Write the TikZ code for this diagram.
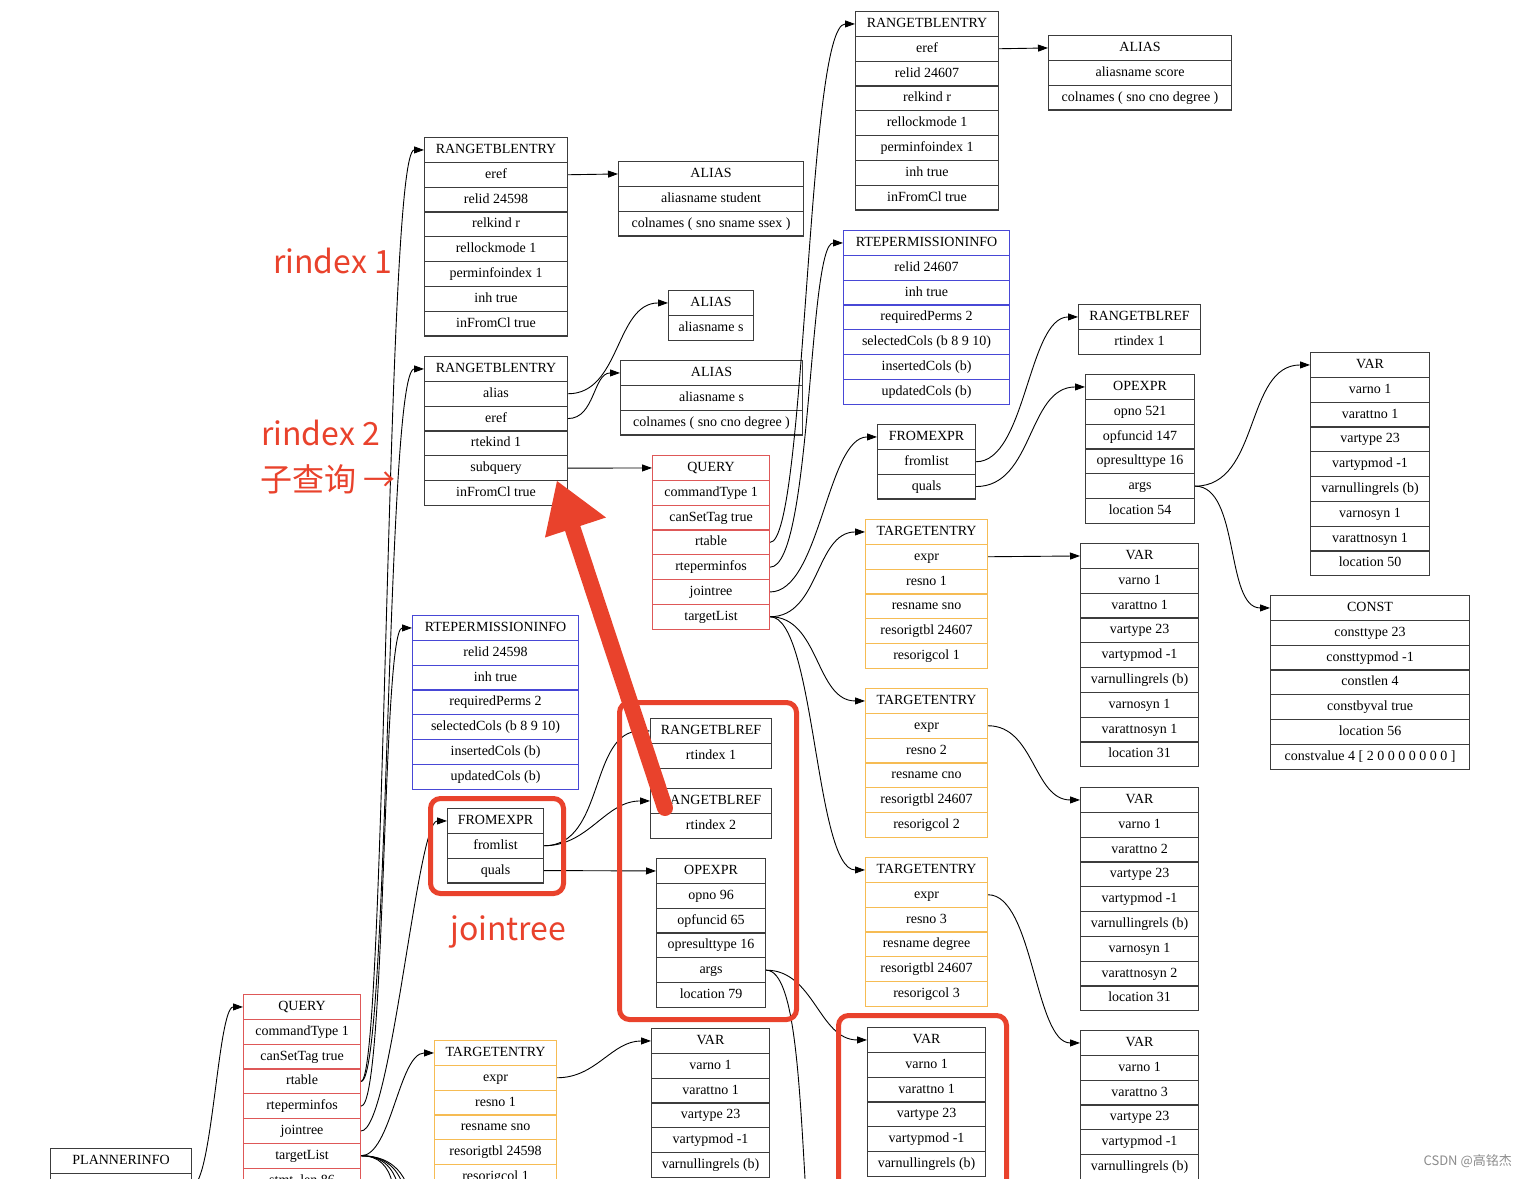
\documentclass[tikz,border=0pt]{standalone}
\usepackage{fontspec}
\setmainfont{Liberation Serif}
\newfontfamily\cjk{Noto Sans CJK SC}
\usetikzlibrary{arrows.meta,calc}

\definecolor{recred}{RGB}{222,88,88}
\definecolor{recblue}{RGB}{72,72,214}
\definecolor{recorange}{RGB}{246,188,84}
\definecolor{recgray}{RGB}{60,60,60}
\definecolor{markred}{RGB}{233,66,44}

% one record: name, left x, top y, width, border style, rows
\newcommand{\pgrec}[6]{%
  \foreach \rowtxt [count=\ri] in {#6}
    \node[rowbox, #5, minimum width=#4pt] (#1-\ri) at (#2,{#3+(\ri-1)*24.8}) {\rowtxt};
}

\begin{document}
\begin{tikzpicture}[x=1pt, y=-1pt,
  font=\fontsize{14}{16}\selectfont,
  rowbox/.style={draw=recgray, line width=1.1pt, anchor=north west, inner sep=0pt,
    minimum height=24.8pt, text height=10pt, text depth=3pt},
  ptr/.style={line width=0.9pt, -{Triangle[length=10pt,width=7pt]}},
  markbox/.style={draw=markred, line width=5pt, rounded corners=10pt},
  marktext/.style={text=markred, font=\cjk\fontsize{32}{36}\selectfont, anchor=base west, inner sep=0pt}]
  \useasboundingbox (0,0) rectangle (1526,1178);
  \fill[white] (0,0) rectangle (1526,1178);
  \clip (0,0) rectangle (1526,1178);

  % outer query
  \pgrec{pi}{50}{1148}{141}{}{PLANNERINFO,{}}
  \pgrec{qo}{243}{994}{117}{draw=recred}{QUERY,commandType 1,canSetTag true,rtable,rteperminfos,jointree,targetList,stmt\_len 86}
  \pgrec{rtes}{424}{137}{143}{}{RANGETBLENTRY,eref,relid 24598,relkind r,rellockmode 1,perminfoindex 1,inh true,inFromCl true}
  \pgrec{als}{618}{161}{185}{}{ALIAS,aliasname student,colnames ( sno sname ssex )}
  \pgrec{alsub}{668}{290}{85}{}{ALIAS,aliasname s}
  \pgrec{rtesub}{424}{356}{143}{}{RANGETBLENTRY,alias,eref,rtekind 1,subquery,inFromCl true}
  \pgrec{alsubc}{620}{360}{182}{}{ALIAS,aliasname s,colnames ( sno cno degree )}
  \pgrec{perms}{412}{615}{166}{draw=recblue}{RTEPERMISSIONINFO,relid 24598,inh true,requiredPerms 2,selectedCols (b 8 9 10),insertedCols (b),updatedCols (b)}
  \pgrec{fromo}{447}{808}{96}{}{FROMEXPR,fromlist,quals}
  \pgrec{rtr1}{650}{718}{121}{}{RANGETBLREF,rtindex 1}
  \pgrec{rtr2}{650}{788}{121}{}{RANGETBLREF,rtindex 2}
  \pgrec{opo}{656}{858}{109}{}{OPEXPR,opno 96,opfuncid 65,opresulttype 16,args,location 79}
  \pgrec{teo}{434}{1040}{122}{draw=recorange}{TARGETENTRY,expr,resno 1,resname sno,resorigtbl 24598,resorigcol 1}
  \pgrec{varte}{651}{1028}{118}{}{VAR,varno 1,varattno 1,vartype 23,vartypmod -1,varnullingrels (b)}
  \pgrec{varo}{867}{1027}{118}{}{VAR,varno 1,varattno 1,vartype 23,vartypmod -1,varnullingrels (b)}

  % subquery
  \pgrec{qi}{652}{455}{117}{draw=recred}{QUERY,commandType 1,canSetTag true,rtable,rteperminfos,jointree,targetList}
  \pgrec{rtesc}{855}{11}{143}{}{RANGETBLENTRY,eref,relid 24607,relkind r,rellockmode 1,perminfoindex 1,inh true,inFromCl true}
  \pgrec{alsc}{1048}{35}{183}{}{ALIAS,aliasname score,colnames ( sno cno degree )}
  \pgrec{permsc}{843}{230}{166}{draw=recblue}{RTEPERMISSIONINFO,relid 24607,inh true,requiredPerms 2,selectedCols (b 8 9 10),insertedCols (b),updatedCols (b)}
  \pgrec{fromi}{877}{424}{98}{}{FROMEXPR,fromlist,quals}
  \pgrec{rtri}{1078}{304}{122}{}{RANGETBLREF,rtindex 1}
  \pgrec{opi}{1085}{374}{109}{}{OPEXPR,opno 521,opfuncid 147,opresulttype 16,args,location 54}
  \pgrec{varop}{1310}{352}{119}{}{VAR,varno 1,varattno 1,vartype 23,vartypmod -1,varnullingrels (b),varnosyn 1,varattnosyn 1,location 50}
  \pgrec{constop}{1270}{595}{199}{}{CONST,consttype 23,consttypmod -1,constlen 4,constbyval true,location 56,{constvalue 4 [ 2 0 0 0 0 0 0 0 ]}}
  \pgrec{tei1}{865}{519}{122}{draw=recorange}{TARGETENTRY,expr,resno 1,resname sno,resorigtbl 24607,resorigcol 1}
  \pgrec{tei2}{865}{688}{122}{draw=recorange}{TARGETENTRY,expr,resno 2,resname cno,resorigtbl 24607,resorigcol 2}
  \pgrec{tei3}{865}{857}{122}{draw=recorange}{TARGETENTRY,expr,resno 3,resname degree,resorigtbl 24607,resorigcol 3}
  \pgrec{vari1}{1080}{543}{118}{}{VAR,varno 1,varattno 1,vartype 23,vartypmod -1,varnullingrels (b),varnosyn 1,varattnosyn 1,location 31}
  \pgrec{vari2}{1080}{787}{118}{}{VAR,varno 1,varattno 2,vartype 23,vartypmod -1,varnullingrels (b),varnosyn 1,varattnosyn 2,location 31}
  \pgrec{vari3}{1080}{1030}{118}{}{VAR,varno 1,varattno 3,vartype 23,vartypmod -1,varnullingrels (b)}

  % ends below the cut
  \coordinate (tl1) at (430,1330);
  \coordinate (tl2) at (440,1380);
  \coordinate (tl3) at (450,1430);
  \coordinate (tl4) at (455,1480);
  \coordinate (argdown) at (880,1450);

  % pointers of the outer query
  \draw[ptr] (pi-2.east) to[out=0,in=180,out distance=20pt,in distance=25pt] (qo-1.west);
  \draw[ptr] (qo-4.east) to[out=0,in=180,out distance=25pt,in distance=38pt] (rtes-1.west);
  \draw[ptr] (qo-4.east) to[out=0,in=180,out distance=28pt,in distance=38pt] (rtesub-1.west);
  \draw[ptr] (qo-5.east) to[out=0,in=180,out distance=25pt,in distance=30pt] (perms-1.west);
  \draw[ptr] (qo-6.east) to[out=0,in=180,out distance=30pt,in distance=30pt] (fromo-1.west);
  \draw[ptr] (qo-7.east) to[out=0,in=180,out distance=30pt,in distance=35pt] (teo-1.west);
  \foreach \t in {tl1,tl2,tl3,tl4}
    \draw[ptr] (qo-7.east) to[out=0,in=180] (\t);
  \draw[ptr] (rtes-2.east) -- (als-1.west);
  \draw[ptr] (rtesub-2.east) to[out=0,in=180] (alsub-1.west);
  \draw[ptr] (rtesub-3.east) to[out=0,in=180] (alsubc-1.west);
  \draw[ptr] (rtesub-5.east) -- (qi-1.west);
  \draw[ptr] (fromo-2.east) to[out=0,in=180] (rtr1-1.west);
  \draw[ptr] (fromo-2.east) to[out=0,in=180] (rtr2-1.west);
  \draw[ptr] (fromo-3.east) -- (opo-1.west);
  \draw[ptr] (opo-5.east) to[out=0,in=180] (varo-1.west);
  \draw[ptr] (opo-5.east) to[out=0,in=180,out distance=60pt,in distance=100pt] (argdown);
  \draw[ptr] (teo-2.east) to[out=0,in=180] (varte-1.west);

  % pointers of the subquery
  \draw[ptr] (qi-4.east) to[out=0,in=180,out distance=36pt,in distance=48pt] (rtesc-1.west);
  \draw[ptr] (qi-5.east) to[out=0,in=180,out distance=42pt,in distance=35pt] (permsc-1.west);
  \draw[ptr] (qi-6.east) to[out=0,in=180,out distance=50pt,in distance=50pt] (fromi-1.west);
  \draw[ptr] (qi-7.east) to[out=0,in=180] (tei1-1.west);
  \draw[ptr] (qi-7.east) to[out=0,in=180] (tei2-1.west);
  \draw[ptr] (qi-7.east) to[out=0,in=180,out distance=45pt,in distance=50pt] (tei3-1.west);
  \draw[ptr] (rtesc-2.east) -- (alsc-1.west);
  \draw[ptr] (fromi-2.east) to[out=0,in=180,out distance=50pt,in distance=50pt] (rtri-1.west);
  \draw[ptr] (fromi-3.east) to[out=0,in=180] (opi-1.west);
  \draw[ptr] (opi-5.east) to[out=0,in=180] (varop-1.west);
  \draw[ptr] (opi-5.east) to[out=0,in=180,out distance=45pt,in distance=45pt] (constop-1.west);
  \draw[ptr] (tei1-2.east) -- (vari1-1.west);
  \draw[ptr] (tei2-2.east) to[out=0,in=180] (vari2-1.west);
  \draw[ptr] (tei3-2.east) to[out=0,in=180,out distance=45pt,in distance=45pt] (vari3-1.west);

  % red marks
  \draw[markbox] (430.5,798.5) rectangle (563.5,893.5);
  \draw[markbox] (619.5,702.5) rectangle (796.5,1019.5);
  \draw[markbox] (838.5,1015.5) rectangle (1006.5,1220);
  \node[marktext] (lblone) at (273,273) {rindex 1};
  \node[marktext] (lbltwo) at (261,445) {rindex 2};
  \node[marktext] (lblsub) at (260,491) {子查询 →};
  \node[marktext] (lbljt) at (450,940) {jointree};
  \coordinate (arrtail) at (665,808);
  \coordinate (arrtip) at (557,481);
  \draw[markred, line width=16pt, line cap=round] (arrtail) -- ($(arrtail)!0.86!(arrtip)$);
  \fill[markred] (arrtip) -- (545,537.5) -- (606,517.5) -- cycle;

  \node[text=black!45, font=\cjk\fontsize{13}{15}\selectfont, anchor=east, inner sep=0pt] (wm) at (1512,1161) {CSDN @高铭杰};
\end{tikzpicture}
\end{document}
